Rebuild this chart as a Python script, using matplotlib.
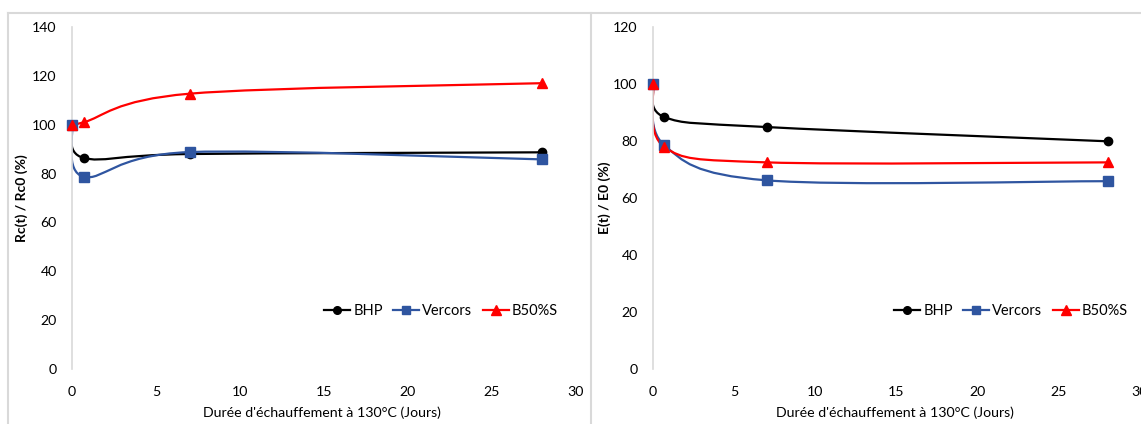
import matplotlib
matplotlib.use("Agg")
import matplotlib.pyplot as plt
import numpy as np
from matplotlib.path import Path
from matplotlib.patches import PathPatch
from matplotlib.lines import Line2D

plt.rcParams['font.family'] = ['Lato', 'DejaVu Sans']

days = [0, 0.7, 7, 28]
series_names = ["BHP", "Vercors", "B50%S"]

rc_bhp = [100, 86.4, 88.0, 88.7]
rc_vercors = [100, 78.7, 88.8, 85.8]
rc_b50s = [100, 101.0, 112.7, 117.0]

e_bhp = [100, 88.4, 84.9, 79.9]
e_vercors = [100, 78.5, 66.2, 65.9]
e_b50s = [100, 77.9, 72.5, 72.5]

xticks = [0, 5, 10, 15, 20, 25, 30]
rc_yticks = [0, 20, 40, 60, 80, 100, 120, 140]
e_yticks = [0, 20, 40, 60, 80, 100, 120]
xlabel = "Durée d'échauffement à 130°C (Jours)"
rc_ylabel = "Rc(t) / Rc0 (%)"
e_ylabel = "E(t) / E0 (%)"

colors = ["#000000", "#2F55A0", "#FF0000"]
markers = ["o", "s", "^"]
msizes = [6, 6.5, 7]

W, H = 1141, 424
fig = plt.figure(figsize=(W / 100, H / 100), dpi=100)


def smooth_curve(ax, xs, ys, color):
    pts = ax.transData.transform(np.column_stack([xs, ys]))
    n = len(pts)
    verts = [pts[0]]
    codes = [Path.MOVETO]
    t = 1 / 6
    for i in range(n - 1):
        p_prev = pts[i - 1] if i > 0 else pts[i]
        p0 = pts[i]
        p1 = pts[i + 1]
        p_next = pts[i + 2] if i + 2 < n else pts[i + 1]
        c1 = p0 + (p1 - p_prev) * t
        c2 = p1 - (p_next - p0) * t
        verts += [c1, c2, p1]
        codes += [Path.CURVE4] * 3
    verts = ax.transData.inverted().transform(np.array(verts))
    patch = PathPatch(Path(verts, codes), facecolor='none', edgecolor=color,
                      lw=1.6, transform=ax.transData, zorder=2, capstyle='round')
    ax.add_patch(patch)


def make_panel(rect, data, yticks, ylabel, legend_center, ylabel_x, xlabel_x):
    ax = fig.add_axes(rect)
    ax.set_xlim(0, 30)
    ax.set_ylim(0, yticks[-1])
    for s in ['top', 'right', 'bottom']:
        ax.spines[s].set_visible(False)
    ax.spines['left'].set_color('#d9d9d9')
    ax.spines['left'].set_linewidth(1.2)
    ax.set_xticks(xticks)
    ax.set_yticks(yticks)
    ax.tick_params(length=0, labelsize=10.2, colors='#000000')
    ax.tick_params(axis='y', pad=11)
    ax.tick_params(axis='x', pad=12)
    handles = []
    for ys, c, m, ms, name in zip(data, colors, markers, msizes, series_names):
        smooth_curve(ax, days, ys, c)
        ax.plot(days, ys, linestyle='none', marker=m, markersize=ms, color=c, zorder=3, clip_on=False)
        handles.append(Line2D([], [], color=c, marker=m, markersize=ms - 0.5, lw=1.6, label=name))
    fig.text(ylabel_x / W, 1 - 198 / H, ylabel, rotation=90, ha='center', va='center',
             fontsize=10, fontweight='bold')
    fig.text(xlabel_x / W, 1 - 413 / H, xlabel, ha='center', va='center', fontsize=10.2)
    fig.legend(handles=handles, loc='center', ncol=3, frameon=False,
               bbox_to_anchor=(legend_center / W, 1 - 311 / H),
               bbox_transform=fig.transFigure, fontsize=10.5, handlelength=1.8,
               handletextpad=0.2, columnspacing=0.7, borderpad=0)
    return ax


y0 = (H - 369) / H
hgt = (369 - 27) / H
make_panel([72 / W, y0, (576 - 72) / W, hgt], [rc_bhp, rc_vercors, rc_b50s],
           rc_yticks, rc_ylabel, 441, 22, 322)
make_panel([653 / W, y0, (1140 - 653) / W, hgt], [e_bhp, e_vercors, e_b50s],
           e_yticks, e_ylabel, 1011, 605, 895)

# panel borders
bc = '#d9d9d9'
fig.add_artist(Line2D([8 / W, 1], [1 - 13 / H, 1 - 13 / H], color=bc, lw=1.5, transform=fig.transFigure))
fig.add_artist(Line2D([8 / W, 8 / W], [0, 1 - 13 / H], color=bc, lw=1.5, transform=fig.transFigure))
fig.add_artist(Line2D([591 / W, 591 / W], [0, 1 - 13 / H], color=bc, lw=1.5, transform=fig.transFigure))

fig.savefig("out.png", dpi=100)
